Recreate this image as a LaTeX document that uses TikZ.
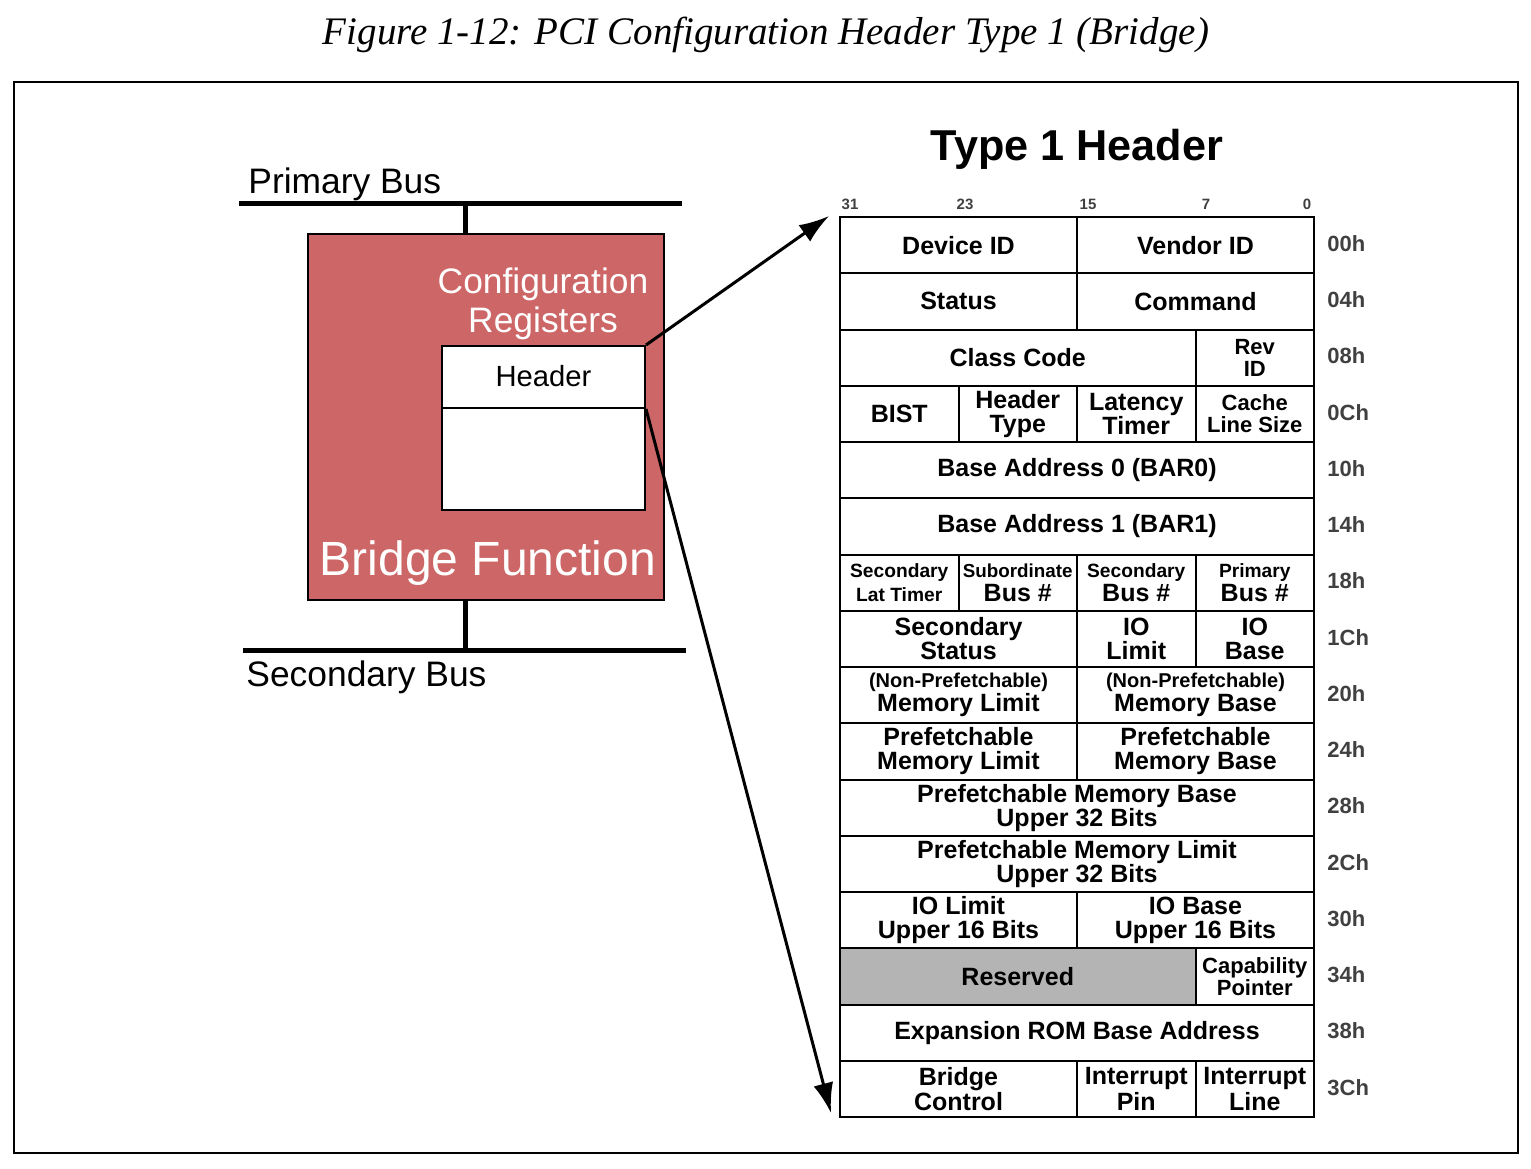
\documentclass[tikz,border=0pt]{standalone}
\usepackage{fontspec}
\setsansfont{Liberation Sans}
\newfontfamily\capfont{Liberation Serif}
\usetikzlibrary{arrows.meta,positioning}
\definecolor{bridgered}{RGB}{205,102,102}
\definecolor{resgray}{RGB}{180,180,180}
\definecolor{offgray}{RGB}{64,64,64}
\newcommand{\fs}[2]{\fontsize{#1}{#2}\selectfont}

\begin{document}
\begin{tikzpicture}[x=0.5pt,y=-0.5pt,
    cell/.style={draw,line width=1pt,inner sep=0pt,minimum height=28.125pt,align=center,font=\sffamily\bfseries\fs{12.5}{12}},
    c1/.style={cell,minimum width=59.25pt},
    c2/.style={cell,minimum width=118.5pt},
    c3/.style={cell,minimum width=177.75pt},
    c4/.style={cell,minimum width=237pt},
    small/.style={font=\sffamily\bfseries\fs{11}{11}},
    offset/.style={anchor=west,inner sep=0pt,text=offgray,font=\sffamily\bfseries\fs{11}{11}},
    bit/.style={text=offgray,font=\sffamily\bfseries\fs{7.5}{8}},
    bus/.style={line width=2.5pt},
    arrow/.style={line width=1.5pt,-{Latex[length=15pt,width=10pt]}},
    label/.style={font=\sffamily\fs{17.7}{19.5},align=center}]
  \useasboundingbox (0,0) rectangle (1531,1168);
  \node[font=\capfont\itshape\fs{19.5}{22}] (caption) at (766,35) {Figure 1-12: PCI Configuration Header Type 1 (Bridge)};
  \draw[line width=1pt] (14,82) rectangle (1518,1153);

  % bridge side
  \coordinate (pbw) at (239,203);
  \coordinate (pbe) at (682,203);
  \coordinate (sbw) at (243,650);
  \coordinate (sbe) at (686,650);
  \draw[bus] (pbw) -- (pbe);
  \draw[bus] (sbw) -- (sbe);
  \node[label,anchor=base west,inner sep=0pt] (pblabel) at (248,193) {Primary Bus};
  \node[label,anchor=base west,inner sep=0pt] (sblabel) at (246,686) {Secondary Bus};
  \node[draw,line width=1pt,fill=bridgered,minimum width=178pt,minimum height=183pt,inner sep=0pt] (bridge) at (486,417) {};
  \coordinate (pbstub) at (465,203);
  \coordinate (sbstub) at (465,650);
  \draw[bus] (pbstub) -- (pbstub |- bridge.north);
  \draw[bus] (sbstub) -- (sbstub |- bridge.south);
  \node[label,text=white] (cfgregs) at (543,304) {Configuration\\Registers};
  \node[draw,line width=1pt,fill=white,minimum width=101.5pt,minimum height=31pt,inner sep=0pt,font=\sffamily\fs{14.6}{16}] (header) at (543.5,377) {\raisebox{1.5pt}{Header}};
  \node[draw,line width=1pt,fill=white,minimum width=101.5pt,minimum height=51pt,inner sep=0pt] (body) at (543.5,459) {};
  \node[text=white,font=\sffamily\fs{24}{26}] (bfunc) at (488,563) {Bridge Function};

  % type 1 header table
  \node[font=\sffamily\bfseries\fs{21.6}{24}] (t1title) at (1077,149) {Type 1 Header};
  \foreach \b/\x in {31/850,23/965,15/1088,7/1206,0/1307}
    \node[bit] (bit\b) at (\x,204) {\b};
  \node[c2] (devid) at (958.5,245.125) {Device ID};
  \node[c2] (vendid) at (1195.5,245.125) {Vendor ID};
  \node[c2] (status) at (958.5,301.375) {Status};
  \node[c2] (command) at (1195.5,301.375) {Command};
  \node[c3] (class) at (1017.75,357.625) {Class Code};
  \node[c1,small] (revid) at (1254.75,357.625) {Rev\\ID};
  \node[c1] (bist) at (899.25,413.875) {BIST};
  \node[c1] (htype) at (1017.75,413.875) {Header\\Type};
  \node[c1] (lat) at (1136.25,413.875) {Latency\\Timer};
  \node[c1,small] (cls) at (1254.75,413.875) {Cache\\Line Size};
  \node[c4] (bar0) at (1077,470.125) {Base Address 0 (BAR0)};
  \node[c4] (bar1) at (1077,526.375) {Base Address 1 (BAR1)};
  \node[c1,font=\sffamily\bfseries\fs{9.6}{12}] (seclat) at (899.25,582.625) {Secondary\\Lat Timer};
  \node[c1] (subbus) at (1017.75,582.625) {{\fs{9.4}{12}Subordinate}\\Bus \#};
  \node[c1] (secbus) at (1136.25,582.625) {{\fs{9.6}{12}Secondary}\\Bus \#};
  \node[c1] (pribus) at (1254.75,582.625) {{\fs{9.6}{12}Primary}\\Bus \#};
  \node[c2] (secstat) at (958.5,638.875) {Secondary\\Status};
  \node[c1] (iolim) at (1136.25,638.875) {IO\\Limit};
  \node[c1] (iobase) at (1254.75,638.875) {IO\\Base};
  \node[c2] (memlim) at (958.5,695.125) {{\fs{10}{12}(Non-Prefetchable)}\\Memory Limit};
  \node[c2] (membase) at (1195.5,695.125) {{\fs{10}{12}(Non-Prefetchable)}\\Memory Base};
  \node[c2] (pmemlim) at (958.5,751.375) {Prefetchable\\Memory Limit};
  \node[c2] (pmembase) at (1195.5,751.375) {Prefetchable\\Memory Base};
  \node[c4] (pbaseup) at (1077,807.625) {Prefetchable Memory Base\\Upper 32 Bits};
  \node[c4] (plimup) at (1077,863.875) {Prefetchable Memory Limit\\Upper 32 Bits};
  \node[c2] (iolimup) at (958.5,920.125) {IO Limit\\Upper 16 Bits};
  \node[c2] (iobaseup) at (1195.5,920.125) {IO Base\\Upper 16 Bits};
  \node[c3,fill=resgray] (resv) at (1017.75,976.375) {Reserved};
  \node[c1,small] (cap) at (1254.75,976.375) {Capability\\Pointer};
  \node[c4] (rom) at (1077,1032.625) {Expansion ROM Base Address};
  \node[c2,font=\sffamily\bfseries\fs{12.5}{11}] (bctl) at (958.5,1088.875) {Bridge\\Control};
  \node[c1,font=\sffamily\bfseries\fs{12.5}{11}] (intpin) at (1136.25,1088.875) {Interrupt\\Pin};
  \node[c1,font=\sffamily\bfseries\fs{12.5}{11}] (intline) at (1254.75,1088.875) {Interrupt\\Line};
  \foreach \off [count=\i from 0] in {00h,04h,08h,0Ch,10h,14h,18h,1Ch,20h,24h,28h,2Ch,30h,34h,38h,3Ch}
    \node[offset] (off\i) at (1327,{243.5+56.25*\i}) {\off};

  % pointers into the table
  \draw[arrow] (header.north east) -- ([xshift=-5pt]devid.north west);
  \draw[arrow] (header.south east) -- ([xshift=-4pt,yshift=2.5pt]bctl.south west);
\end{tikzpicture}
\end{document}
